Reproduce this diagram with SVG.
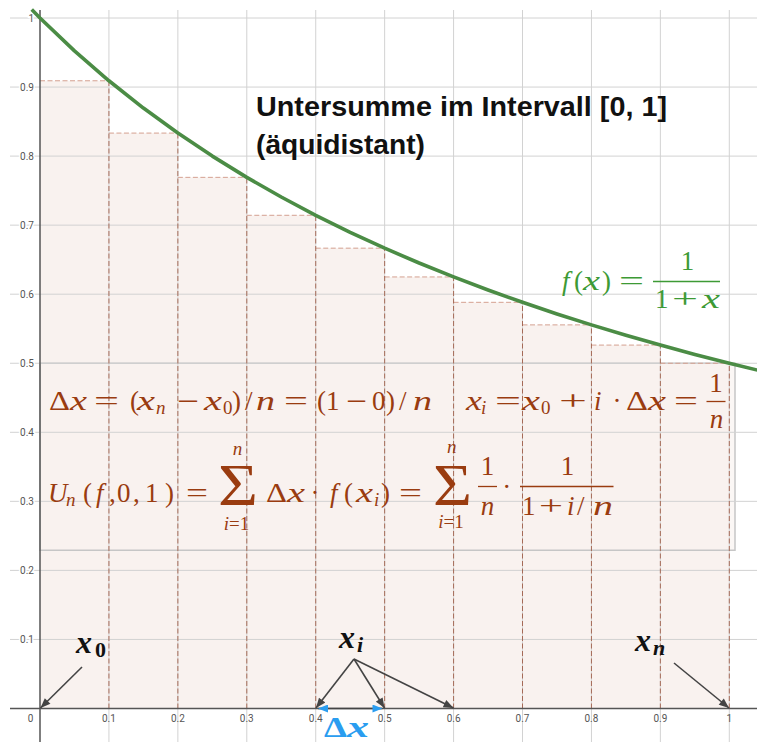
<svg xmlns="http://www.w3.org/2000/svg" width="757" height="742" viewBox="0 0 757 742">
<style>
.grid line{stroke:#d2d2d2;stroke-width:1}
.ax{stroke:#555;stroke-width:1.5}
.ylab{font-family:Roboto,"Liberation Sans",sans-serif;font-size:10px;fill:#555;text-anchor:end;stroke:#fff;stroke-width:3;paint-order:stroke}
.xlab{font-family:Roboto,"Liberation Sans",sans-serif;font-size:10px;fill:#555;text-anchor:middle}
.bar rect{fill:#f9f2ef}
.top line{stroke:#d4a090;stroke-width:1;stroke-dasharray:5 2.5}
.side line{stroke:#9a5038;stroke-opacity:0.8;stroke-width:1;stroke-dasharray:5 2.5}
.fm{font-family:"Liberation Serif",serif;font-size:27px;fill:#9a3c10}
.it{font-style:italic}
.sb{font-size:19px}
.gr{fill:#3d9a35}
.mid{text-anchor:middle}
.title{font-family:"Liberation Sans",Arial,sans-serif;font-weight:bold;font-size:27px;fill:#111}
.bl{font-family:"Liberation Serif",serif;font-weight:bold;fill:#111}
.conn line{stroke:#444;stroke-width:1.6}
</style>
<defs>
<marker id="ah" viewBox="0 0 10 8" refX="10" refY="4" markerWidth="11" markerHeight="8" markerUnits="userSpaceOnUse" orient="auto"><path d="M0,0 L10,4 L0,8 z" fill="#444"/></marker>
<marker id="bh" viewBox="0 0 10 8" refX="10" refY="4" markerWidth="11" markerHeight="8" markerUnits="userSpaceOnUse" orient="auto-start-reverse"><path d="M0,0 L10,4 L0,8 z" fill="#2a9df0"/></marker>
</defs>
<rect x="0" y="0" width="757" height="742" fill="#fff"/>

<g id="bars" class="bar">
<rect x="40" y="80.77" width="68.93" height="627.73"/>
<rect x="108.93" y="133.08" width="68.93" height="575.42"/>
<rect x="177.86" y="177.35" width="68.93" height="531.15"/>
<rect x="246.79" y="215.29" width="68.93" height="493.21"/>
<rect x="315.72" y="248.17" width="68.93" height="460.33"/>
<rect x="384.65" y="276.94" width="68.93" height="431.56"/>
<rect x="453.58" y="302.32" width="68.93" height="406.18"/>
<rect x="522.51" y="324.89" width="68.93" height="383.61"/>
<rect x="591.44" y="345.08" width="68.93" height="363.42"/>
<rect x="660.37" y="363.25" width="68.93" height="345.25"/>
</g>

<g id="formula-box">
<rect x="40" y="363.25" width="695" height="187" fill="#f9f2ef" fill-opacity="0.6" stroke="#c6c6c6" stroke-width="1.5"/>
</g>

<g id="grid" class="grid">
<line x1="108.93" y1="10" x2="108.93" y2="742"/>
<line x1="177.86" y1="10" x2="177.86" y2="742"/>
<line x1="246.79" y1="10" x2="246.79" y2="742"/>
<line x1="315.72" y1="10" x2="315.72" y2="742"/>
<line x1="384.65" y1="10" x2="384.65" y2="742"/>
<line x1="453.58" y1="10" x2="453.58" y2="742"/>
<line x1="522.51" y1="10" x2="522.51" y2="742"/>
<line x1="591.44" y1="10" x2="591.44" y2="742"/>
<line x1="660.37" y1="10" x2="660.37" y2="742"/>
<line x1="729.3" y1="10" x2="729.3" y2="742"/>
<line x1="10" y1="18" x2="757" y2="18"/>
<line x1="10" y1="87.05" x2="757" y2="87.05"/>
<line x1="10" y1="156.1" x2="757" y2="156.1"/>
<line x1="10" y1="225.15" x2="757" y2="225.15"/>
<line x1="10" y1="294.2" x2="757" y2="294.2"/>
<line x1="10" y1="363.25" x2="757" y2="363.25"/>
<line x1="10" y1="432.3" x2="757" y2="432.3"/>
<line x1="10" y1="501.35" x2="757" y2="501.35"/>
<line x1="10" y1="570.4" x2="757" y2="570.4"/>
<line x1="10" y1="639.45" x2="757" y2="639.45"/>
</g>

<g id="bar-tops" class="top">
<line x1="40" y1="80.77" x2="108.93" y2="80.77"/>
<line x1="108.93" y1="133.08" x2="177.86" y2="133.08"/>
<line x1="177.86" y1="177.35" x2="246.79" y2="177.35"/>
<line x1="246.79" y1="215.29" x2="315.72" y2="215.29"/>
<line x1="315.72" y1="248.17" x2="384.65" y2="248.17"/>
<line x1="384.65" y1="276.94" x2="453.58" y2="276.94"/>
<line x1="453.58" y1="302.32" x2="522.51" y2="302.32"/>
<line x1="522.51" y1="324.89" x2="591.44" y2="324.89"/>
<line x1="591.44" y1="345.08" x2="660.37" y2="345.08"/>
<line x1="660.37" y1="363.25" x2="729.3" y2="363.25"/>
</g>
<g id="bar-sides" class="side">
<line x1="108.93" y1="708.5" x2="108.93" y2="80.77"/>
<line x1="177.86" y1="708.5" x2="177.86" y2="133.08"/>
<line x1="246.79" y1="708.5" x2="246.79" y2="177.35"/>
<line x1="315.72" y1="708.5" x2="315.72" y2="215.29"/>
<line x1="384.65" y1="708.5" x2="384.65" y2="248.17"/>
<line x1="453.58" y1="708.5" x2="453.58" y2="276.94"/>
<line x1="522.51" y1="708.5" x2="522.51" y2="302.32"/>
<line x1="591.44" y1="708.5" x2="591.44" y2="324.89"/>
<line x1="660.37" y1="708.5" x2="660.37" y2="345.08"/>
<line x1="729.3" y1="708.5" x2="729.3" y2="363.25"/>
</g>

<g id="axes">
<line class="ax" x1="10" y1="708.5" x2="757" y2="708.5"/>
<line class="ax" x1="40" y1="10" x2="40" y2="742"/>
<text class="ylab" x="34" y="21.5">1</text>
<text class="ylab" x="34" y="90.5">0.9</text>
<text class="ylab" x="34" y="159.6">0.8</text>
<text class="ylab" x="34" y="228.6">0.7</text>
<text class="ylab" x="34" y="297.7">0.6</text>
<text class="ylab" x="34" y="366.7">0.5</text>
<text class="ylab" x="34" y="435.8">0.4</text>
<text class="ylab" x="34" y="504.8">0.3</text>
<text class="ylab" x="34" y="573.9">0.2</text>
<text class="ylab" x="34" y="642.9">0.1</text>
<text class="xlab" x="30.5" y="722">0</text>
<text class="xlab" x="108.93" y="722">0.1</text>
<text class="xlab" x="177.86" y="722">0.2</text>
<text class="xlab" x="246.79" y="722">0.3</text>
<text class="xlab" x="315.72" y="722">0.4</text>
<text class="xlab" x="384.65" y="722">0.5</text>
<text class="xlab" x="453.58" y="722">0.6</text>
<text class="xlab" x="522.51" y="722">0.7</text>
<text class="xlab" x="591.44" y="722">0.8</text>
<text class="xlab" x="660.37" y="722">0.9</text>
<text class="xlab" x="729.3" y="722">1</text>
</g>

<g id="curve">
<polyline fill="none" stroke="#4b8c45" stroke-width="3.6" stroke-linejoin="round" points="31.73,9.61 40,18 74.47,50.88 108.93,80.77 143.4,108.07 177.86,133.08 212.33,156.1 246.79,177.35 281.26,197.02 315.72,215.29 350.19,232.29 384.65,248.17 419.12,263.02 453.58,276.94 488.05,290.01 522.51,302.32 556.98,313.93 591.44,324.89 625.91,335.26 660.37,345.08 694.84,354.4 729.3,363.25 763.77,371.67"/>
</g>

<g id="title">
<text class="title" x="256" y="115.5" textLength="411" lengthAdjust="spacingAndGlyphs">Untersumme im Intervall [0, 1]</text>
<text class="title" x="256" y="154" textLength="169" lengthAdjust="spacingAndGlyphs">(äquidistant)</text>
</g>

<g id="f-label">
<text class="fm gr it" x="562" y="290">f</text>
<text class="fm gr" x="574" y="290">(</text>
<text class="fm gr it" x="583" y="290" textLength="17" lengthAdjust="spacingAndGlyphs">x</text>
<text class="fm gr" x="602" y="290">)</text>
<text class="fm gr" x="619" y="290" textLength="25" lengthAdjust="spacingAndGlyphs">=</text>
<line x1="653" y1="281.5" x2="720" y2="281.5" stroke="#3d9a35" stroke-width="1.3"/>
<text class="fm gr mid" x="687.5" y="270">1</text>
<text class="fm gr" x="655" y="308">1</text>
<text class="fm gr" x="672" y="308" textLength="26" lengthAdjust="spacingAndGlyphs">+</text>
<text class="fm gr it" x="702" y="308" textLength="18" lengthAdjust="spacingAndGlyphs">x</text>
</g>

<g id="formula-line1">
<text class="fm" x="49" y="410" textLength="21" lengthAdjust="spacingAndGlyphs">Δ</text>
<text class="fm it" x="70" y="410" textLength="17" lengthAdjust="spacingAndGlyphs">x</text>
<text class="fm" x="94" y="410" textLength="25" lengthAdjust="spacingAndGlyphs">=</text>
<text class="fm" x="130" y="410">(</text>
<text class="fm it" x="137" y="410" textLength="18" lengthAdjust="spacingAndGlyphs">x</text>
<text class="fm it sb" x="156" y="414">n</text>
<text class="fm" x="177" y="410" textLength="22" lengthAdjust="spacingAndGlyphs">−</text>
<text class="fm it" x="204" y="410" textLength="18" lengthAdjust="spacingAndGlyphs">x</text>
<text class="fm sb" x="223" y="414">0</text>
<text class="fm" x="232" y="410">)</text>
<text class="fm" x="245" y="410">/</text>
<text class="fm it" x="256" y="410" textLength="19" lengthAdjust="spacingAndGlyphs">n</text>
<text class="fm" x="284" y="410" textLength="24" lengthAdjust="spacingAndGlyphs">=</text>
<text class="fm" x="317" y="410">(</text>
<text class="fm" x="326" y="410">1</text>
<text class="fm" x="346" y="410" textLength="21" lengthAdjust="spacingAndGlyphs">−</text>
<text class="fm" x="372" y="410">0</text>
<text class="fm" x="386" y="410">)</text>
<text class="fm" x="399" y="410">/</text>
<text class="fm it" x="413" y="410" textLength="19" lengthAdjust="spacingAndGlyphs">n</text>
<text class="fm it" x="466" y="410" textLength="16" lengthAdjust="spacingAndGlyphs">x</text>
<text class="fm it sb" x="481" y="414">i</text>
<text class="fm" x="495" y="410" textLength="26" lengthAdjust="spacingAndGlyphs">=</text>
<text class="fm it" x="522" y="410" textLength="18" lengthAdjust="spacingAndGlyphs">x</text>
<text class="fm sb" x="541" y="414">0</text>
<text class="fm" x="559" y="410" textLength="28" lengthAdjust="spacingAndGlyphs">+</text>
<text class="fm it" x="594" y="410">i</text>
<text class="fm mid" x="617" y="410">·</text>
<text class="fm" x="626" y="410" textLength="22" lengthAdjust="spacingAndGlyphs">Δ</text>
<text class="fm it" x="648" y="410" textLength="18" lengthAdjust="spacingAndGlyphs">x</text>
<text class="fm" x="674" y="410" textLength="24" lengthAdjust="spacingAndGlyphs">=</text>
<text class="fm mid" x="716" y="392">1</text>
<line x1="706.5" y1="401.5" x2="725.5" y2="401.5" stroke="#9a3c10" stroke-width="1.3"/>
<text class="fm it mid" x="716.5" y="428">n</text>
</g>

<g id="formula-line2">
<text class="fm it" x="48" y="502">U</text>
<text class="fm it sb" x="66" y="506">n</text>
<text class="fm" x="83" y="502">(</text>
<text class="fm it" x="96" y="502">f</text>
<text class="fm" x="109" y="502">,</text>
<text class="fm" x="117" y="502">0</text>
<text class="fm" x="133" y="502">,</text>
<text class="fm" x="145" y="502">1</text>
<text class="fm" x="165" y="502">)</text>
<text class="fm" x="186" y="502" textLength="22" lengthAdjust="spacingAndGlyphs">=</text>
<text class="fm" x="218" y="505" style="font-size:60px" textLength="40" lengthAdjust="spacingAndGlyphs">Σ</text>
<text class="fm it sb mid" x="237.5" y="455">n</text>
<text class="fm sb mid" x="236.5" y="530"><tspan class="it">i</tspan>=1</text>
<text class="fm" x="266" y="502" textLength="21" lengthAdjust="spacingAndGlyphs">Δ</text>
<text class="fm it" x="287" y="502" textLength="18" lengthAdjust="spacingAndGlyphs">x</text>
<text class="fm mid" x="315" y="502">·</text>
<text class="fm it" x="330" y="502">f</text>
<text class="fm" x="344" y="502">(</text>
<text class="fm it" x="356" y="502" textLength="17" lengthAdjust="spacingAndGlyphs">x</text>
<text class="fm it sb" x="374" y="506">i</text>
<text class="fm" x="381" y="502">)</text>
<text class="fm" x="399" y="502" textLength="23" lengthAdjust="spacingAndGlyphs">=</text>
<text class="fm" x="433" y="505" style="font-size:60px" textLength="39" lengthAdjust="spacingAndGlyphs">Σ</text>
<text class="fm it sb mid" x="451.7" y="453">n</text>
<text class="fm sb mid" x="451" y="528"><tspan class="it">i</tspan>=1</text>
<text class="fm mid" x="487.5" y="475">1</text>
<line x1="478" y1="486.5" x2="497" y2="486.5" stroke="#9a3c10" stroke-width="1.3"/>
<text class="fm it mid" x="487.5" y="515">n</text>
<text class="fm mid" x="506.7" y="496">·</text>
<line x1="520" y1="486.5" x2="613.5" y2="486.5" stroke="#9a3c10" stroke-width="1.3"/>
<text class="fm mid" x="567.5" y="475">1</text>
<text class="fm" x="522" y="515">1</text>
<text class="fm" x="539" y="515" textLength="24" lengthAdjust="spacingAndGlyphs">+</text>
<text class="fm it" x="567" y="515">i</text>
<text class="fm" x="577" y="515">/</text>
<text class="fm it" x="593" y="515" textLength="20" lengthAdjust="spacingAndGlyphs">n</text>
</g>

<g id="connectors" class="conn">
<line x1="82" y1="667" x2="40.5" y2="708" marker-end="url(#ah)"/>
<line x1="354" y1="659" x2="316" y2="708" marker-end="url(#ah)"/>
<line x1="354" y1="659" x2="384.5" y2="708" marker-end="url(#ah)"/>
<line x1="354" y1="659" x2="453.5" y2="708" marker-end="url(#ah)"/>
<line x1="674" y1="663" x2="729" y2="708" marker-end="url(#ah)"/>
<line x1="318" y1="708.5" x2="382.5" y2="708.5" stroke="#2a9df0" stroke-width="2.6" marker-start="url(#bh)" marker-end="url(#bh)"/>
</g>

<g id="label-x0">
<text class="bl it" x="76" y="653" style="font-size:32px">x</text>
<text class="bl" x="95" y="657" style="font-size:22px">0</text>
</g>
<g id="label-xi">
<text class="bl it" x="339" y="648" style="font-size:32px">x</text>
<text class="bl it" x="357" y="652" style="font-size:22px">i</text>
</g>
<g id="label-xn">
<text class="bl it" x="635" y="651" style="font-size:32px">x</text>
<text class="bl it" x="653" y="655" style="font-size:22px">n</text>
</g>
<g id="label-dx">
<text class="bl" x="324" y="737" style="font-size:29px;fill:#2a9df0" textLength="23" lengthAdjust="spacingAndGlyphs">Δ</text>
<text class="bl it" x="347" y="737" style="font-size:30px;fill:#2a9df0" textLength="22" lengthAdjust="spacingAndGlyphs">x</text>
</g>
</svg>
